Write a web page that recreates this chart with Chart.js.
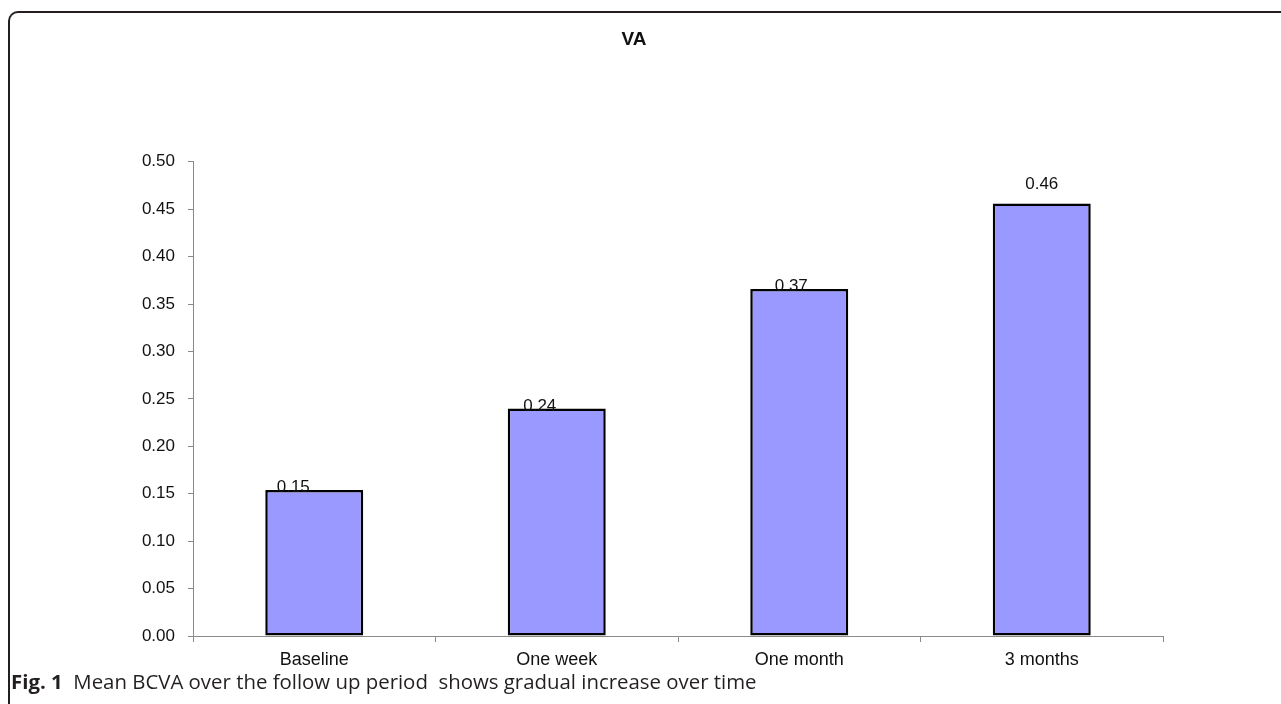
<!DOCTYPE html>
<html>
<head>
<meta charset="utf-8">
<script src="https://cdn.jsdelivr.net/npm/chart.js@4.4.0/dist/chart.umd.min.js"></script>
<style>
	html, body { margin: 0; padding: 0; background: #fff; overflow: hidden; }
	#wrap { position: relative; width: 1281px; height: 704px; }
	#chart-va { position: absolute; left: 0; top: 0; }
	.frame {
		position: absolute; left: 8px; top: 11px; right: -20px; bottom: -20px;
		border-top: 2px solid #231f20; border-left: 2px solid #231f20;
		border-top-left-radius: 10px; pointer-events: none;
	}
	.caption {
		position: absolute; left: 11px; top: 668px;
		font-family: "Open Sans", "Noto Sans", sans-serif; font-size: 20.4px;
		line-height: 27px; color: #231f20; white-space: pre;
	}
	.caption b { font-weight: 700; }
</style>
</head>
<body>
<div id="wrap">
	<canvas id="chart-va" width="1281" height="704"></canvas>
	<div class="frame"></div>
	<div class="caption"><b>Fig. 1</b>  Mean BCVA over the follow up period  shows gradual increase over time</div>
</div>
<script>
// VA chart data
// ================================================================================
let categories = ['Baseline', 'One week', 'One month', '3 months'];
let mean_bcva = [0.154, 0.240, 0.366, 0.456];
let y_min = 0;
let y_max = 0.5;
let y_step = 0.05;

let axis_gray = '#8a8a8a';

// Excel left its value labels slightly off the bar tops
let value_labels = {
	id: 'valueLabels',
	afterDatasetsDraw(chart, args, opts) {
		let ctx = chart.ctx;
		let meta = chart.getDatasetMeta(0);
		ctx.save();
		ctx.font = opts.font;
		ctx.fillStyle = '#111';
		ctx.textAlign = 'center';
		ctx.textBaseline = 'middle';
		meta.data.forEach((bar, i) => {
			let shift = opts.shift[i];
			ctx.fillText(mean_bcva[i].toFixed(2), bar.x + shift[0], bar.y + shift[1]);
		});
		ctx.restore();
	}
};

new Chart(document.getElementById('chart-va'), {
	type: 'bar',
	data: {
		labels: categories,
		datasets: [{
			data: mean_bcva,
			backgroundColor: '#9999ff',
			borderColor: '#000',
			borderWidth: 2.5,
			borderSkipped: false,
			barPercentage: 0.404,
			categoryPercentage: 1
		}]
	},
	options: {
		responsive: false,
		animation: false,
		devicePixelRatio: 1,
		layout: { padding: { left: 105, right: 118, top: 0, bottom: 28 } },
		plugins: {
			legend: { display: false },
			tooltip: { enabled: false },
			title: {
				display: true,
				text: 'VA',
				color: '#111',
				font: { family: 'Liberation Sans', size: 19, weight: 'bold' },
				padding: { top: 28, bottom: 111 }
			},
			valueLabels: {
				font: '17px "Liberation Sans"',
				shift: [[-21, -3], [-17, -2], [-8, -3], [0, -19]]
			}
		},
		scales: {
			x: {
				offset: true,
				grid: { display: true, drawOnChartArea: false, offset: true, tickLength: 6, color: axis_gray },
				border: { color: axis_gray, width: 1 },
				ticks: { color: '#111', padding: 7, font: { family: 'Liberation Sans', size: 18 } },
				afterFit: (scale) => { scale.height = 40; }
			},
			y: {
				min: y_min,
				max: y_max,
				grid: { drawOnChartArea: false, tickLength: 5, color: axis_gray },
				border: { color: axis_gray, width: 1 },
				ticks: {
					stepSize: y_step,
					padding: 13,
					color: '#111',
					font: { family: 'Liberation Sans', size: 17 },
					callback: (v) => v.toFixed(2)
				},
				afterFit: (scale) => { scale.width = 88; }
			}
		}
	},
	plugins: [value_labels]
});
</script>
</body>
</html>
